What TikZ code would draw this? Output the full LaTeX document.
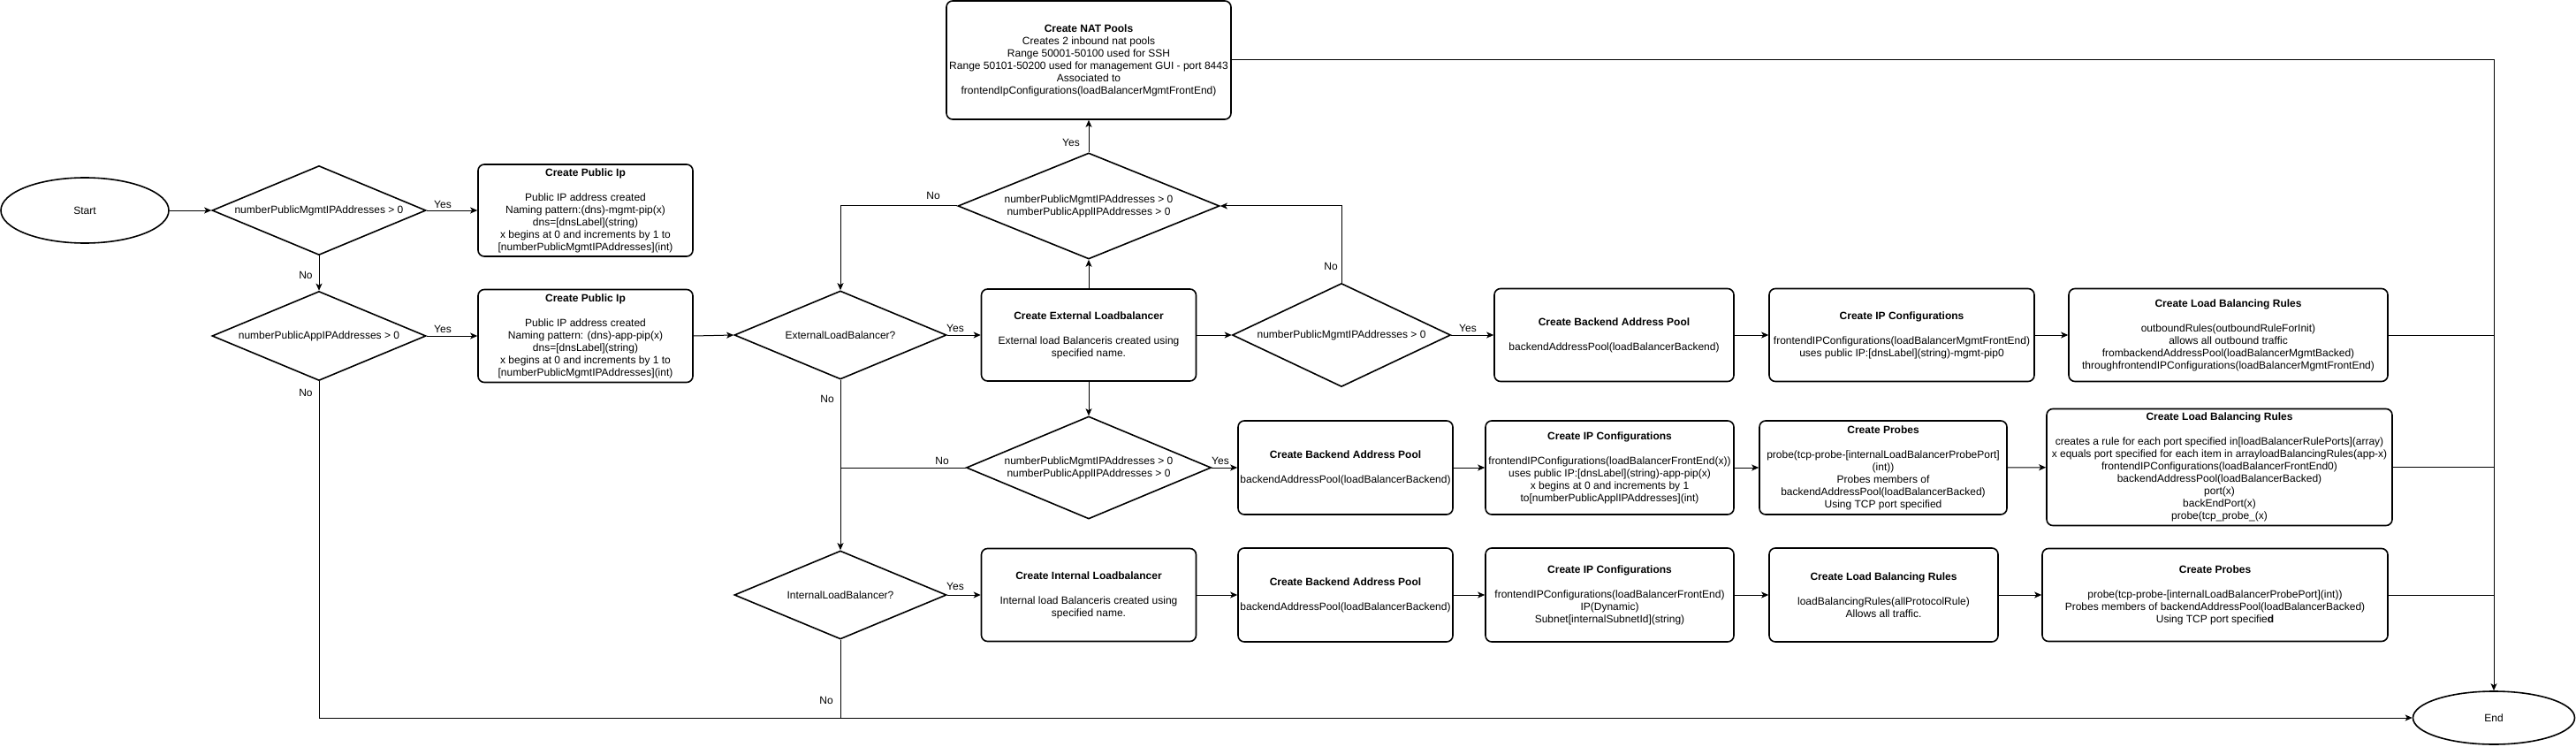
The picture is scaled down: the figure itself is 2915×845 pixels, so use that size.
\documentclass[tikz,border=0pt]{standalone}
\usepackage{fontspec}
\setmainfont{Liberation Sans}
\usetikzlibrary{shapes.geometric,arrows.meta}
\begin{document}
\begin{tikzpicture}[x=1pt,y=-1pt,
  every node/.style={font=\fontsize{12}{14}\selectfont},
  box/.style={draw, line width=1.6pt, rounded corners=7pt, align=center, inner sep=0pt},
  dia/.style={diamond, draw, line width=1.6pt, align=center, inner sep=0pt},
  term/.style={ellipse, draw, line width=1.6pt, inner sep=0pt},
  conn/.style={line width=1pt, -{Stealth[length=8pt,width=7pt,inset=2pt]}},
  plain/.style={line width=1pt},
  lbl/.style={inner sep=0pt}
]
\useasboundingbox (0,0) rectangle (2915,845);

% terminals
\node[term, minimum width=190pt, minimum height=74pt] (start) at (96,238) {Start};
\node[term, minimum width=183pt, minimum height=60pt] (end) at (2822,812) {End};

% left column
\node[dia, minimum width=242pt, minimum height=101pt, shape aspect=2.4] (d1) at (361,238) {numberPublicMgmtIPAddresses > 0};
\node[dia, minimum width=242pt, minimum height=101pt, shape aspect=2.4] (d2) at (361,380) {numberPublicAppIPAddresses > 0};
\node[box, minimum width=243pt, minimum height=104pt] (p1) at (662.5,238) {\textbf{Create Public Ip}\\[14pt]Public IP address created\\Naming pattern:(dns)-mgmt-pip(x)\\dns={[}dnsLabel{]}(string)\\x begins at 0 and increments by 1 to\\{[}numberPublicMgmtIPAddresses{]}(int)};
\node[box, minimum width=243pt, minimum height=105pt] (p2) at (662.5,380) {\textbf{Create Public Ip}\\[14pt]Public IP address created\\Naming pattern: (dns)-app-pip(x)\\dns={[}dnsLabel{]}(string)\\x begins at 0 and increments by 1 to\\{[}numberPublicMgmtIPAddresses{]}(int)};

% load balancer decisions
\node[dia, minimum width=240pt, minimum height=100pt, shape aspect=2.4] (elb) at (951,379) {ExternalLoadBalancer?};
\node[dia, minimum width=240pt, minimum height=100pt, shape aspect=2.4] (ilb) at (951,673) {InternalLoadBalancer?};
\node[box, minimum width=243pt, minimum height=104pt] (extlb) at (1232,379) {\textbf{Create External Loadbalancer}\\[14pt]External load Balanceris created using\\specified name.};
\node[box, minimum width=243pt, minimum height=105pt] (intlb) at (1232,673) {\textbf{Create Internal Loadbalancer}\\[14pt]Internal load Balanceris created using\\specified name.};
\node[box, minimum width=322pt, minimum height=134pt] (nat) at (1232,68) {\textbf{Create NAT Pools}\\Creates 2 inbound nat pools\\Range 50001-50100 used for SSH\\Range 50101-50200 used for management GUI - port 8443\\Associated to\\frontendIpConfigurations(loadBalancerMgmtFrontEnd)};
\node[dia, minimum width=296pt, minimum height=120pt, shape aspect=2.47] (dtop) at (1232,233) {numberPublicMgmtIPAddresses > 0\\numberPublicApplIPAddresses > 0};
\node[dia, minimum width=277pt, minimum height=116pt, shape aspect=2.39] (dmid) at (1232,529) {numberPublicMgmtIPAddresses > 0\\numberPublicApplIPAddresses > 0};
\node[dia, minimum width=247pt, minimum height=117pt, shape aspect=2.11] (d3) at (1518,379) {numberPublicMgmtIPAddresses > 0};

% row 1
\node[box, minimum width=271pt, minimum height=105pt] (bap1) at (1826.5,379) {\textbf{Create Backend Address Pool}\\[14pt]backendAddressPool(loadBalancerBackend)};
\node[box, minimum width=300pt, minimum height=105pt] (ipc1) at (2152,379) {\textbf{Create IP Configurations}\\[14pt]frontendIPConfigurations(loadBalancerMgmtFrontEnd)\\uses public IP:{[}dnsLabel{]}(string)-mgmt-pip0};
\node[box, minimum width=361pt, minimum height=105pt] (lbr1) at (2521.5,379) {\textbf{Create Load Balancing Rules}\\[14pt]outboundRules(outboundRuleForInit)\\allows all outbound traffic\\frombackendAddressPool(loadBalancerMgmtBacked)\\throughfrontendIPConfigurations(loadBalancerMgmtFrontEnd)};

% row 2
\node[box, minimum width=243pt, minimum height=106pt] (bap2) at (1522.5,529) {\textbf{Create Backend Address Pool}\\[14pt]backendAddressPool(loadBalancerBackend)};
\node[box, minimum width=281pt, minimum height=106pt] (ipc2) at (1821.5,529) {\textbf{Create IP Configurations}\\[14pt]frontendIPConfigurations(loadBalancerFrontEnd(x))\\uses public IP:{[}dnsLabel{]}(string)-app-pip(x)\\x begins at 0 and increments by 1\\to{[}numberPublicApplIPAddresses{]}(int)};
\node[box, minimum width=280pt, minimum height=106pt] (prb1) at (2131,529) {\textbf{Create Probes}\\[14pt]probe(tcp-probe-{[}internalLoadBalancerProbePort{]}\\(int))\\Probes members of\\backendAddressPool(loadBalancerBacked)\\Using TCP port specified};
\node[box, minimum width=391pt, minimum height=132pt] (lbr2) at (2511.5,528.5) {\textbf{Create Load Balancing Rules}\\[14pt]creates a rule for each port specified in{[}loadBalancerRulePorts{]}(array)\\x equals port specified for each item in arrayloadBalancingRules(app-x)\\frontendIPConfigurations(loadBalancerFrontEnd0)\\backendAddressPool(loadBalancerBacked)\\port(x)\\backEndPort(x)\\probe(tcp\_probe\_(x)};

% row 3
\node[box, minimum width=243pt, minimum height=106pt] (bap3) at (1522.5,673) {\textbf{Create Backend Address Pool}\\[14pt]backendAddressPool(loadBalancerBackend)};
\node[box, minimum width=281pt, minimum height=106pt] (ipc3) at (1821.5,673) {\textbf{Create IP Configurations}\\[14pt]frontendIPConfigurations(loadBalancerFrontEnd)\\IP(Dynamic)\\Subnet{[}internalSubnetId{]}(string)};
\node[box, minimum width=259pt, minimum height=106pt] (lbr3) at (2131.5,673) {\textbf{Create Load Balancing Rules}\\[14pt]loadBalancingRules(allProtocolRule)\\Allows all traffic.};
\node[box, minimum width=391pt, minimum height=105pt] (prb2) at (2506.5,673) {\textbf{Create Probes}\\[14pt]probe(tcp-probe-{[}internalLoadBalancerProbePort{]}(int))\\Probes members of backendAddressPool(loadBalancerBacked)\\Using TCP port specifie\textbf{d}};

% connectors
\draw[conn] (start) -- (d1);
\draw[conn] (d1) -- (p1);
\draw[conn] (d1) -- (d2);
\draw[conn] (d2) -- (p2);
\draw[conn] (d2.south) |- (end.west);
\draw[conn] (p2.east) -- (elb.west);
\draw[conn] (elb) -- (extlb);
\draw[conn] (elb) -- (ilb);
\draw[conn] (ilb) -- (intlb);
\draw[plain] (ilb.south) -- (ilb.south |- end.west);
\draw[conn] (extlb) -- (dmid);
\draw[plain] (dmid.west) -- (dmid.west -| elb.south);
\draw[conn] (dmid) -- (bap2);
\draw[conn] (extlb) -- (dtop);
\draw[conn] (dtop) -- (nat);
\draw[conn] (dtop.west) -| (elb.north);
\draw[conn] (extlb) -- (d3);
\draw[conn] (d3.north) |- (dtop.east);
\draw[conn] (d3) -- (bap1);
\draw[conn] (bap1) -- (ipc1);
\draw[conn] (ipc1) -- (lbr1);
\draw[plain] (lbr1.east) -- (lbr1.east -| end.north);
\draw[conn] (bap2) -- (ipc2);
\draw[conn] (ipc2) -- (prb1);
\draw[conn] (prb1) -- (lbr2);
\draw[plain] (lbr2.east) -- (lbr2.east -| end.north);
\draw[conn] (intlb) -- (bap3);
\draw[conn] (bap3) -- (ipc3);
\draw[conn] (ipc3) -- (lbr3);
\draw[conn] (lbr3) -- (prb2);
\draw[plain] (prb2.east) -- (prb2.east -| end.north);
\draw[conn] (nat.east) -| (end.north);

% labels
\node[lbl] (ly1) at (501,231) {Yes};
\node[lbl] (ln1) at (346,311) {No};
\node[lbl] (ly2) at (501,372) {Yes};
\node[lbl] (ln2) at (346,444) {No};
\node[lbl] (lye) at (1081,371) {Yes};
\node[lbl] (lne) at (936,451) {No};
\node[lbl] (lyi) at (1081,663) {Yes};
\node[lbl] (lni) at (935,792) {No};
\node[lbl] (lnm) at (1066,521) {No};
\node[lbl] (lym) at (1381,521) {Yes};
\node[lbl] (lyt) at (1212,161) {Yes};
\node[lbl] (lnt) at (1056,221) {No};
\node[lbl] (ln3) at (1506,301) {No};
\node[lbl] (ly3) at (1661,371) {Yes};
\end{tikzpicture}
\end{document}
